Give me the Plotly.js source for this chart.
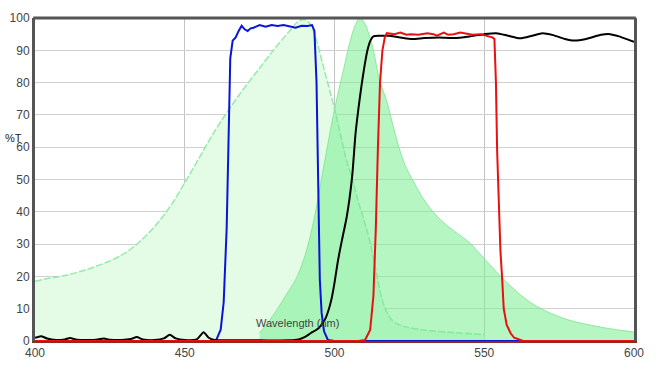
<!DOCTYPE html>
<html>
<head>
<meta charset="utf-8">
<script src="https://cdn.plot.ly/plotly-3.0.1.min.js"></script>
<style>html,body{margin:0;padding:0;background:#fff;}#chart{width:660px;height:374px;}</style>
</head>
<body>
<div id="chart"></div>
<script>
// Excitation spectrum (dashed, light fill)
const exWl = [400,405,410,415,420,425,430,435,440,445,450,455,460,465,470,475,480,485,488,490,492,494,496,498,500,502,504,506,508,510,512,514,516,518,520,523,527,532,540,550];
const exT  = [18.5,19.5,20.3,21.5,23,24.8,27.2,30.8,35.5,41.5,49,57,65,72,78.5,84.5,90.5,96,99,99.5,98,93,86,79,72,64,56,50,43,37,30,21,12.5,8,5.8,4.6,3.8,3.2,2.6,2];
// Emission spectrum (solid fill)
const emWl = [475,478,481,484,487,490,493,496,499,501,503,505,507,508.5,510,511.5,513,515,517.5,520,522,524,526,529,532,536,540,545,550,555,560,565,570,575,580,585,590,595,600];
const emT  = [2.5,6,10,14.5,19,26,37,52,67,76,84,92,98,100,98.5,95,90,81,74,65,58.5,53.5,50,45,41,37,34,30.5,25.5,20.5,16,12.2,9.5,7.5,6,5,4.1,3.4,2.8];
// Excitation filter (blue)
const bWl = [400,459,460.5,462,463,464,464.8,465.2,466,467,468,469,470,471,472,473,475,477,479,481,483,485,487,489,491,492.5,493.3,494,494.6,495.1,495.7,496.5,497.8,500,600];
const bT  = [0,0,0.3,3.5,12,35,70,87.5,93,94,96,97.6,96.5,96,96.8,97,97.8,97.3,97.8,97.5,97.8,97.3,97,97.6,97.5,97.8,96,80,50,19,8.7,3,0.3,0,0];
// Dichroic (black)
const dWl = [400,402,404,407,410,411.7,414,418,421,423,425,429,432,434,436,440,443,445,447,450,454,456.3,458,460,465,475,485,488,490,492,494,495,496,497,498,499,500,501,502,503,504,505,506,507,508,509,510,511,512,513,515,518,520,523,526,530,535,540,545,550,554,558,562,566,569.4,573,577,580,584,589,592,595,598,600];
const dT  = [1.0,1.5,0.8,0.3,0.5,0.9,0.4,0.3,0.5,0.8,0.4,0.3,0.6,1.2,0.5,0.3,0.8,1.9,0.8,0.3,0.5,2.7,1.0,0.3,0.2,0.2,0.2,0.5,1.2,2.4,3.5,4.3,5.5,7,9.5,13,18,24,29,33.5,38,44,52,64,72,79,85,90,93,94.3,94.5,94.5,94.3,93.8,93.5,93.8,94,93.8,94.3,95,95.3,94.5,93.7,94.5,95.3,94.7,93.5,93,93.5,94.8,95,94.3,93.3,92.6];
// Emission filter (red)
const rWl = [400,508,510.2,511.9,513,513.8,514.5,515.2,516,516.8,517.5,520,522,524,525.5,528,531,533,534.2,536.5,538,539.8,542,544.3,546,548.7,551,552.7,553.4,553.9,554.3,554.9,555.4,556,556.5,557.5,558.8,560,562.1,563,600];
const rT  = [0,0,0.3,3.4,14,35,60,80,90,94,95.3,95,95.5,94.8,95,94.8,95.3,95,94.5,95.5,94.8,95,95.5,95,94.8,95,94.5,94,93.5,80,59,40,28,19,10,5,2.4,1,0.3,0,0];

const xTicks = [400,450,500,550,600];
const yTicks = [0,10,20,30,40,50,60,70,80,90,100];

const traces = [
  {x: exWl, y: exT, type:'scatter', mode:'lines', fill:'tozeroy', fillcolor:'rgba(228,251,230,1)', line:{width:0, shape:'spline'}, hoverinfo:'skip'},
  {x: emWl, y: emT, type:'scatter', mode:'lines', fill:'tozeroy', fillcolor:'rgba(120,238,145,0.55)', line:{color:'rgba(120,230,140,0.8)', width:1, shape:'spline'}, hoverinfo:'skip'},
  {x: exWl, y: exT, type:'scatter', mode:'lines', line:{color:'rgba(120,228,145,0.75)', width:1.5, dash:'7px,2px', shape:'spline'}, hoverinfo:'skip'},
  {x: bWl, y: bT, type:'scatter', mode:'lines', line:{color:'#0a14d8', width:2}},
  {x: dWl, y: dT, type:'scatter', mode:'lines', line:{color:'#000000', width:2, shape:'spline', smoothing:0.6}},
  {x: rWl, y: rT, type:'scatter', mode:'lines', line:{color:'#e81010', width:2}}
];

const layout = {
  width:660, height:374,
  margin:{l:35, r:26, t:18, b:33},
  paper_bgcolor:'#fff', plot_bgcolor:'#fff',
  showlegend:false,
  font:{family:'Liberation Sans, Arial, sans-serif', size:12, color:'#444'},
  xaxis:{range:[400,600], tickvals:xTicks, ticktext:xTicks.map(String), showgrid:true, gridcolor:'#c4c4c4', gridwidth:1,
         zeroline:false, showline:true, linecolor:'#8e2a24', linewidth:2, layer:'below traces', ticks:'', ticklen:0,
         tickfont:{size:12, color:'#444'}},
  yaxis:{range:[0,100], tickvals:yTicks, ticktext:yTicks.map(String), showgrid:true, gridcolor:'#d0d0d0', gridwidth:1,
         zeroline:false, showline:true, mirror:true, linecolor:'#555', linewidth:3, ticks:'', ticklen:0,
         tickfont:{size:12, color:'#444'}},
  shapes:[
    {type:'line', xref:'paper', yref:'paper', x0:-0.003, x1:1.003, y0:1, y1:1, line:{color:'#555', width:3}, layer:'above'}
  ],
  annotations:[
    {text:'%T', xref:'paper', yref:'paper', x:-0.053, y:0.628, xanchor:'left', yanchor:'middle', showarrow:false, font:{size:11, color:'#222'}},
    {text:'Wavelength (nm)', xref:'x', yref:'y', x:487.5, y:5.6, xanchor:'center', yanchor:'middle', showarrow:false, font:{size:11, color:'#444'}}
  ]
};

Plotly.newPlot('chart', traces, layout, {displayModeBar:false, staticPlot:true});
</script>
</body>
</html>
